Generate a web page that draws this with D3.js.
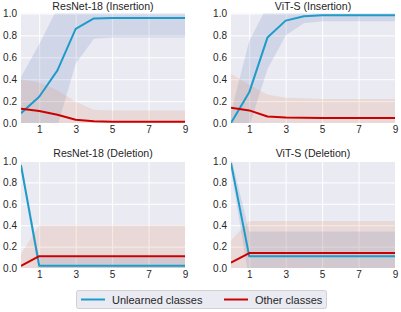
<!DOCTYPE html>
<html>
<head>
<meta charset="utf-8">
<script src="https://cdn.jsdelivr.net/npm/d3@7"></script>
<style>
  body { margin: 0; background: #fff; }
  svg { display: block; font-family: "Liberation Sans", Arial, sans-serif; }
</style>
</head>
<body>
<div id="chart"></div>
<script>
// data
const steps = [0, 1, 2, 3, 4, 5, 6, 7, 8, 9];
const xTicks = [1, 3, 5, 7, 9];
const yTicks = [0, 0.2, 0.4, 0.6, 0.8, 1.0];
const titles = ["ResNet-18 (Insertion)", "ViT-S (Insertion)", "ResNet-18 (Deletion)", "ViT-S (Deletion)"];
const seriesNames = ["Unlearned classes", "Other classes"];

// ResNet-18 insertion
const resInsUnl = [0.09, 0.24, 0.48, 0.86, 0.955, 0.96, 0.96, 0.96, 0.96, 0.96];
const resInsUnlLo = [-0.24, -0.2, -0.03, 0.54, 0.77, 0.78, 0.78, 0.78, 0.78, 0.78];
const resInsUnlHi = [0.42, 0.72, 1.05, 1.18, 1.14, 1.14, 1.14, 1.14, 1.14, 1.14];
const resInsOth = [0.13, 0.11, 0.075, 0.03, 0.015, 0.012, 0.012, 0.012, 0.012, 0.012];
const resInsOthLo = [-0.14, -0.15, -0.15, -0.13, -0.09, -0.09, -0.09, -0.09, -0.09, -0.09];
const resInsOthHi = [0.40, 0.37, 0.30, 0.195, 0.12, 0.115, 0.115, 0.115, 0.115, 0.115];

// ViT-S insertion
const vitInsUnl = [0.0, 0.28, 0.78, 0.935, 0.975, 0.985, 0.985, 0.985, 0.985, 0.985];
const vitInsUnlLo = [-0.1, -0.03, 0.49, 0.8, 0.91, 0.93, 0.93, 0.93, 0.93, 0.93];
const vitInsUnlHi = [0.1, 0.75, 1.07, 1.07, 1.04, 1.04, 1.04, 1.04, 1.04, 1.04];
const vitInsOth = [0.14, 0.115, 0.06, 0.05, 0.048, 0.046, 0.045, 0.045, 0.045, 0.045];
const vitInsOthLo = [-0.17, -0.12, -0.14, -0.13, -0.13, -0.13, -0.13, -0.13, -0.13, -0.13];
const vitInsOthHi = [0.45, 0.35, 0.26, 0.23, 0.225, 0.22, 0.22, 0.22, 0.22, 0.22];

// ResNet-18 deletion
const resDelUnl = [0.96, 0.02, 0.02, 0.02, 0.02, 0.02, 0.02, 0.02, 0.02, 0.02];
const resDelUnlLo = [0.92, -0.06, -0.06, -0.06, -0.06, -0.06, -0.06, -0.06, -0.06, -0.06];
const resDelUnlHi = [1.0, 0.1, 0.1, 0.1, 0.1, 0.1, 0.1, 0.1, 0.1, 0.1];
const resDelOth = [0.02, 0.11, 0.11, 0.11, 0.11, 0.11, 0.11, 0.11, 0.11, 0.11];
const resDelOthLo = [-0.09, -0.18, -0.18, -0.18, -0.18, -0.18, -0.18, -0.18, -0.18, -0.18];
const resDelOthHi = [0.13, 0.40, 0.40, 0.40, 0.40, 0.40, 0.40, 0.40, 0.40, 0.40];

// ViT-S deletion
const vitDelUnl = [0.98, 0.11, 0.11, 0.11, 0.11, 0.11, 0.11, 0.11, 0.11, 0.11];
const vitDelUnlLo = [0.92, -0.12, -0.12, -0.12, -0.12, -0.12, -0.12, -0.12, -0.12, -0.12];
const vitDelUnlHi = [1.04, 0.34, 0.34, 0.34, 0.34, 0.34, 0.34, 0.34, 0.34, 0.34];
const vitDelOth = [0.05, 0.14, 0.14, 0.14, 0.14, 0.14, 0.14, 0.14, 0.14, 0.14];
const vitDelOthLo = [-0.16, -0.16, -0.16, -0.16, -0.16, -0.16, -0.16, -0.16, -0.16, -0.16];
const vitDelOthHi = [0.26, 0.44, 0.44, 0.44, 0.44, 0.44, 0.44, 0.44, 0.44, 0.44];

const lineColors = ["#1f9bc9", "#cc0000"];
const bandColors = ["#4c72b0", "#dd8452"];

const panels = [
  { title: titles[0], box: [21, 185, 13.5, 123],
    series: [[resInsUnl, resInsUnlLo, resInsUnlHi], [resInsOth, resInsOthLo, resInsOthHi]] },
  { title: titles[1], box: [231, 395, 13.5, 123],
    series: [[vitInsUnl, vitInsUnlLo, vitInsUnlHi], [vitInsOth, vitInsOthLo, vitInsOthHi]] },
  { title: titles[2], box: [21, 185, 161, 268],
    series: [[resDelUnl, resDelUnlLo, resDelUnlHi], [resDelOth, resDelOthLo, resDelOthHi]] },
  { title: titles[3], box: [231, 395, 161, 268],
    series: [[vitDelUnl, vitDelUnlLo, vitDelUnlHi], [vitDelOth, vitDelOthLo, vitDelOthHi]] },
];

const width = 401, height = 312;
const svg = d3.select("#chart").append("svg").attr("width", width).attr("height", height);

panels.forEach((p, pi) => {
  const [x0, x1, y0, y1] = p.box;
  const x = d3.scaleLinear().domain([0, 9]).range([x0, x1]);
  const y = d3.scaleLinear().domain([0, 1]).range([y1, y0]);
  const g = svg.append("g");

  g.append("clipPath").attr("id", "clip" + pi)
    .append("rect").attr("x", x0).attr("y", y0).attr("width", x1 - x0).attr("height", y1 - y0);

  // background
  g.append("rect").attr("x", x0).attr("y", y0).attr("width", x1 - x0).attr("height", y1 - y0)
    .attr("fill", "#eaeaf2");

  // grid
  g.append("g").attr("transform", `translate(0,${y1})`)
    .call(d3.axisBottom(x).tickValues(xTicks).tickSize(-(y1 - y0)).tickFormat(""))
    .call((a) => a.select(".domain").remove())
    .selectAll("line").attr("stroke", "#fff").attr("stroke-width", 1);
  g.append("g").attr("transform", `translate(${x0},0)`)
    .call(d3.axisLeft(y).tickValues(yTicks).tickSize(-(x1 - x0)).tickFormat(""))
    .call((a) => a.select(".domain").remove())
    .selectAll("line").attr("stroke", "#fff").attr("stroke-width", 1);

  const plot = g.append("g").attr("clip-path", `url(#clip${pi})`);

  // bands
  p.series.forEach((s, si) => {
    const area = d3.area()
      .x((d, i) => x(steps[i]))
      .y0((d, i) => y(s[1][i]))
      .y1((d, i) => y(s[2][i]));
    plot.append("path").datum(s[0]).attr("d", area)
      .attr("fill", bandColors[si]).attr("fill-opacity", 0.16);
  });

  // mean lines
  p.series.forEach((s, si) => {
    const line = d3.line().x((d, i) => x(steps[i])).y((d) => y(d));
    plot.append("path").datum(s[0]).attr("d", line)
      .attr("fill", "none").attr("stroke", lineColors[si]).attr("stroke-width", 2)
      .attr("stroke-linejoin", "round");
  });

  // tick labels
  g.append("g").attr("transform", `translate(0,${y1})`)
    .call(d3.axisBottom(x).tickValues(xTicks).tickSize(0).tickPadding(2.5))
    .call((a) => a.select(".domain").remove())
    .selectAll("text").attr("font-size", "10px").attr("fill", "#262626")
    .attr("font-family", "Liberation Sans, Arial, sans-serif");
  g.append("g").attr("transform", `translate(${x0},0)`)
    .call(d3.axisLeft(y).tickValues(yTicks).tickSize(0).tickPadding(4).tickFormat(d3.format(".1f")))
    .call((a) => a.select(".domain").remove())
    .selectAll("text").attr("font-size", "10px").attr("fill", "#262626")
    .attr("font-family", "Liberation Sans, Arial, sans-serif");

  // title
  g.append("text").attr("x", (x0 + x1) / 2).attr("y", y0 - 4)
    .attr("text-anchor", "middle").attr("font-size", "10.6px").attr("fill", "#262626")
    .text(p.title);
});

// legend
const legend = svg.append("g");
legend.append("rect").attr("x", 76.5).attr("y", 290.5).attr("width", 250).attr("height", 18)
  .attr("rx", 2).attr("fill", "#eaeaf2").attr("stroke", "#d0d0d0");
const legendX = [[81, 105, 112], [224, 248, 255]];
seriesNames.forEach((name, i) => {
  legend.append("line").attr("x1", legendX[i][0]).attr("x2", legendX[i][1])
    .attr("y1", 299.5).attr("y2", 299.5).attr("stroke", lineColors[i]).attr("stroke-width", 2);
  legend.append("text").attr("x", legendX[i][2]).attr("y", 303.5)
    .attr("font-size", "11px").attr("fill", "#262626").text(name);
});
</script>
</body>
</html>
